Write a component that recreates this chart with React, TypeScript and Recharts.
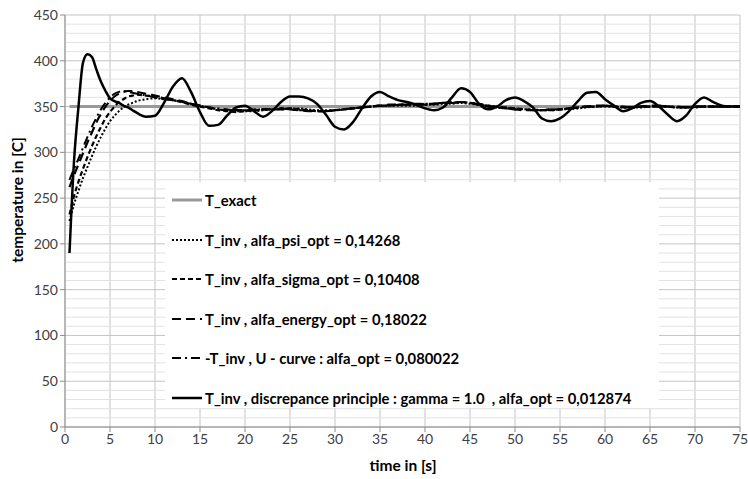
import React from 'react';
import {
    LineChart,
    Line,
    XAxis,
    YAxis,
    CartesianGrid,
    ReferenceLine
} from 'recharts';

// time in [s]
const times = [
    0.5, 1, 1.5, 2, 2.5, 3, 3.5, 4, 4.5, 5, 5.5, 6, 6.5, 7, 7.5, 8,
    9, 10, 11, 12, 13, 14, 15, 16, 17, 18, 19, 20, 21, 22, 23, 24, 25, 26, 27, 28, 29, 30,
    31, 32, 33, 34, 35, 36, 37, 38, 39, 40, 41, 42, 43, 44, 45, 46, 47, 48, 49, 50,
    51, 52, 53, 54, 55, 56, 57, 58, 59, 60, 61, 62, 63, 64, 65, 66, 67, 68, 69, 70,
    71, 72, 73, 74, 75
];

const tExact = times.map(() => 350);

const tPsi = [
    225, 243, 258, 272, 284, 296, 307, 317, 326, 334, 340, 345, 349, 352, 354, 356,
    358, 359, 358, 357, 355, 353, 351, 349, 347, 346, 345, 345, 345, 346, 347, 347, 348, 348, 347, 346, 346, 346,
    347, 348, 349, 350, 351, 351, 351, 351, 351, 352, 352, 353, 353, 354, 353, 352, 351, 350, 349, 348,
    347, 347, 346, 346, 347, 347, 348, 349, 350, 350, 350, 349, 349, 349, 350, 350, 350, 349, 349, 349,
    350, 350, 350, 350, 350
];

const tSigma = [
    232, 252, 268, 282, 295, 307, 318, 328, 337, 344, 350, 355, 358, 361, 362, 363,
    362, 361, 359, 357, 355, 352, 350, 348, 346, 345, 344, 345, 346, 347, 347, 348, 348, 347, 346, 345, 345, 346,
    347, 348, 349, 350, 351, 351, 352, 352, 352, 352, 353, 354, 354, 355, 354, 353, 351, 350, 349, 348,
    347, 346, 346, 346, 347, 348, 349, 350, 350, 351, 350, 349, 349, 350, 350, 350, 350, 349, 349, 350,
    350, 350, 350, 350, 350
];

const tEnergy = [
    262, 275, 287, 299, 311, 322, 333, 342, 350, 356, 361, 364, 366, 367, 367, 366,
    364, 362, 360, 358, 356, 353, 351, 349, 347, 346, 346, 346, 347, 347, 347, 347, 347, 346, 345, 345, 345, 346,
    347, 348, 349, 350, 351, 352, 352, 352, 352, 353, 353, 354, 355, 355, 354, 352, 350, 349, 348, 347,
    346, 346, 346, 347, 347, 348, 349, 350, 351, 351, 350, 349, 349, 350, 351, 351, 350, 349, 349, 350,
    350, 350, 350, 350, 350
];

const tUcurve = [
    270, 282, 293, 305, 317, 328, 338, 347, 354, 360, 364, 366, 367, 366, 365, 364,
    362, 360, 358, 357, 355, 353, 351, 349, 348, 347, 346, 346, 346, 347, 347, 348, 347, 346, 346, 345, 345, 346,
    347, 348, 349, 350, 351, 351, 352, 352, 353, 353, 353, 354, 354, 355, 354, 352, 351, 349, 348, 347,
    347, 346, 346, 347, 347, 348, 349, 350, 350, 351, 350, 350, 349, 350, 350, 351, 350, 350, 349, 350,
    350, 350, 350, 350, 350
];

const tDiscrepance = [
    190, 290, 350, 398, 407, 404, 390, 377, 367, 359, 356, 354, 351, 349, 346, 343,
    339, 340, 354, 372, 381, 366, 344, 329, 330, 340, 349, 351, 345, 339, 345, 355, 361, 361, 359, 353, 341, 328,
    325, 333, 348, 361, 366, 361, 357, 355, 352, 348, 346, 349, 360, 370, 366, 353, 347, 350, 357, 360,
    356, 349, 337, 334, 337, 345, 356, 365, 366, 358, 351, 345, 348, 354, 356, 350, 341, 334, 340, 353,
    360, 355, 351, 350, 350
];

const xTicks = [0, 5, 10, 15, 20, 25, 30, 35, 40, 45, 50, 55, 60, 65, 70, 75];
const yTicks = [0, 50, 100, 150, 200, 250, 300, 350, 400, 450];
const yMinorGrid = [
    10, 20, 30, 40, 60, 70, 80, 90, 110, 120, 130, 140, 160, 170, 180, 190,
    210, 220, 230, 240, 260, 270, 280, 290, 310, 320, 330, 340, 360, 370, 380, 390,
    410, 420, 430, 440
];

const seriesNames = [
    'T_exact',
    'T_inv , alfa_psi_opt = 0,14268',
    'T_inv , alfa_sigma_opt = 0,10408',
    'T_inv , alfa_energy_opt = 0,18022',
    '-T_inv , U - curve : alfa_opt = 0,080022',
    'T_inv , discrepance principle : gamma = 1.0  , alfa_opt = 0,012874'
];

const data = times.map((t, i) => ({
    t,
    exact: tExact[i],
    psi: tPsi[i],
    sigma: tSigma[i],
    energy: tEnergy[i],
    ucurve: tUcurve[i],
    discrepance: tDiscrepance[i]
}));

const series = [
    { key: 'exact', color: '#999999', width: 3, dash: undefined },
    { key: 'psi', color: '#000000', width: 2, dash: '2 2' },
    { key: 'sigma', color: '#000000', width: 2.2, dash: '5 3' },
    { key: 'energy', color: '#000000', width: 2.2, dash: '9 5' },
    { key: 'ucurve', color: '#000000', width: 2, dash: '9 4 2 4' },
    { key: 'discrepance', color: '#000000', width: 2.5, dash: undefined }
];

const FONT = 'Lato, "Open Sans", sans-serif';

// legend drawn as an overlay box, like the Excel one sitting inside the plot
const LegendBox = () => (
    <div style={{ position: 'absolute', left: 165, top: 182, width: 494, height: 226, background: '#fff' }}>
        {series.map((s, i) => (
            <div
                key={s.key}
                style={{
                    position: 'absolute',
                    left: 7,
                    top: 8 + i * 39.5,
                    height: 20,
                    display: 'flex',
                    alignItems: 'center',
                    whiteSpace: 'pre',
                    fontFamily: FONT,
                    fontWeight: 700,
                    fontSize: 14.8,
                    color: '#000'
                }}
            >
                <svg width={32} height={10} style={{ marginRight: 1 }}>
                    <line x1={0} y1={5} x2={30} y2={5} stroke={s.color} strokeWidth={s.width} strokeDasharray={s.dash} />
                </svg>
                {seriesNames[i]}
            </div>
        ))}
    </div>
);

export default function App() {
    return (
        <div style={{ position: 'absolute', left: 0, top: 0, width: 748, height: 479, background: '#fff' }}>
            <LineChart width={748} height={479} data={data} margin={{ top: 15, right: 8, left: 0, bottom: 0 }}>
                <CartesianGrid stroke="#c4c4c4" strokeWidth={1} />
                {yMinorGrid.map((v) => (
                    <ReferenceLine key={v} y={v} stroke="#e2e2e2" strokeWidth={1} />
                ))}
                <XAxis
                    dataKey="t"
                    type="number"
                    domain={[0, 75]}
                    ticks={xTicks}
                    height={52}
                    stroke="#8c8c8c"
                    tickSize={5}
                    tick={{ fill: '#404040', fontSize: 14, fontFamily: FONT }}
                    interval={0}
                />
                <YAxis
                    type="number"
                    domain={[0, 450]}
                    ticks={yTicks}
                    width={65}
                    stroke="#8c8c8c"
                    tickSize={5}
                    tick={{ fill: '#404040', fontSize: 14, fontFamily: FONT }}
                    interval={0}
                />
                {series.map((s, i) => (
                    <Line
                        key={s.key}
                        name={seriesNames[i]}
                        dataKey={s.key}
                        type="monotone"
                        stroke={s.color}
                        strokeWidth={s.width}
                        strokeDasharray={s.dash}
                        dot={false}
                        activeDot={false}
                        isAnimationActive={false}
                    />
                ))}
            </LineChart>
            <LegendBox />
            <div
                style={{
                    position: 'absolute',
                    left: 17,
                    top: 200,
                    transform: 'translate(-50%, -50%) rotate(-90deg)',
                    whiteSpace: 'nowrap',
                    fontFamily: FONT,
                    fontWeight: 700,
                    fontSize: 15.5,
                    color: '#000'
                }}
            >
                temperature in [C]
            </div>
            <div
                style={{
                    position: 'absolute',
                    left: 403,
                    top: 465,
                    transform: 'translate(-50%, -50%)',
                    whiteSpace: 'nowrap',
                    fontFamily: FONT,
                    fontWeight: 700,
                    fontSize: 15.5,
                    color: '#000'
                }}
            >
                time in [s]
            </div>
        </div>
    );
}
